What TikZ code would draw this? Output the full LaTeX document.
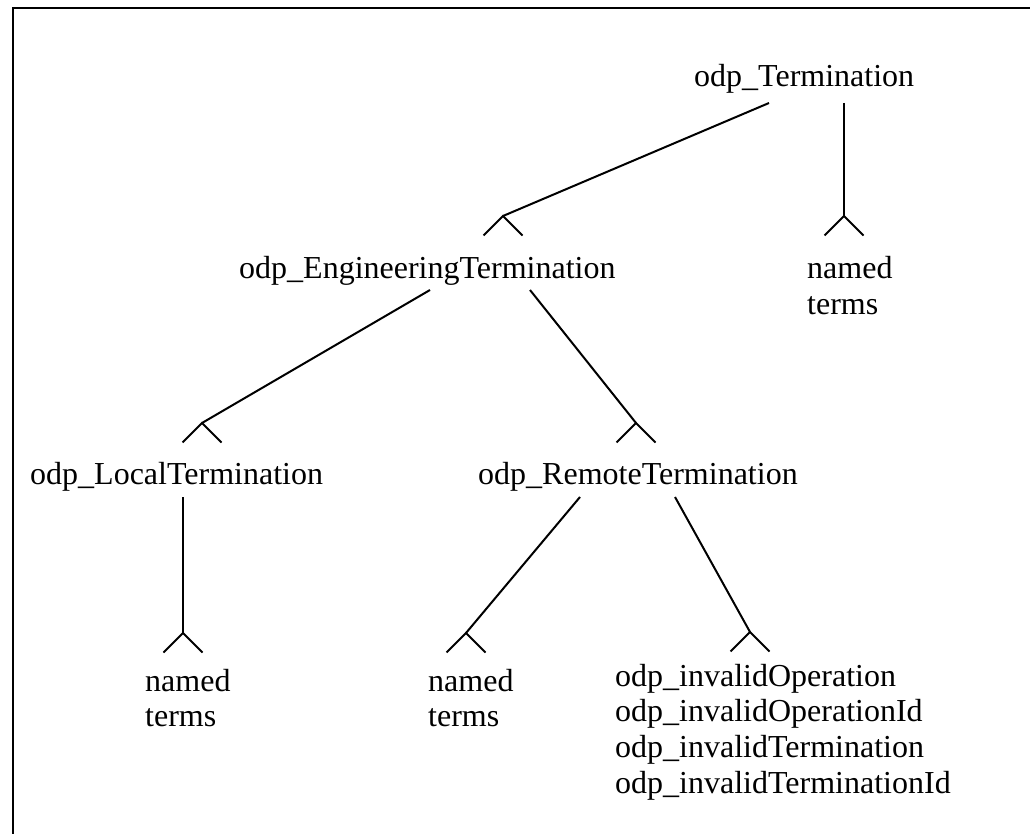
\documentclass[tikz,border=0pt]{standalone}
\usepackage{fontspec}
\setmainfont{Liberation Serif}
\begin{document}
\begin{tikzpicture}[x=1pt,y=-1pt,
  label/.style={inner sep=0pt,anchor=base west,align=left,
    font=\fontsize{32}{35.7}\selectfont},
  link/.style={line width=2pt},
  crowfoot/.pic={\draw[link] (-19.5,19.5) -- (0,0) -- (19.5,19.5);}]
\useasboundingbox (0,0) rectangle (1030,834);
% frame (only its top and left edges fall inside the page)
\draw[line width=2.5pt] (13,860) -- (13,8) -- (1050,8);

% terms (multi-line nodes are placed by the baseline of their last line)
\node[label] (term)   at (694,87)    {odp\_Termination};
\node[label] (eng)    at (239,278)   {odp\_EngineeringTermination};
\node[label] (named1) at (807,314.7) {named\\terms};
\node[label] (local)  at (30,484)    {odp\_LocalTermination};
\node[label] (remote) at (478,484)   {odp\_RemoteTermination};
\node[label] (named2) at (145,726.7) {named\\terms};
\node[label] (named3) at (428,726.7) {named\\terms};
\node[label] (inval)  at (615,793.1) {odp\_invalidOperation\\odp\_invalidOperationId\\odp\_invalidTermination\\odp\_invalidTerminationId};

% attachment points below the parent terms
\coordinate (termA)  at (769,103);
\coordinate (termB)  at (844,103);
\coordinate (engA)   at (430,290);
\coordinate (engB)   at (530,290);
\coordinate (localA) at (183,497);
\coordinate (remA)   at (580,497);
\coordinate (remB)   at (675,497);

% crow's-foot ends above the child terms
\coordinate (engF)    at (503,216);
\coordinate (named1F) at (844,216);
\coordinate (localF)  at (202,423);
\coordinate (remoteF) at (636,423);
\coordinate (named2F) at (183,633);
\coordinate (named3F) at (466,633);
\coordinate (invalF)  at (750,632);

\draw[link] (termA)  -- (engF);
\draw[link] (termB)  -- (named1F);
\draw[link] (engA)   -- (localF);
\draw[link] (engB)   -- (remoteF);
\draw[link] (localA) -- (named2F);
\draw[link] (remA)   -- (named3F);
\draw[link] (remB)   -- (invalF);

\foreach \f in {engF,named1F,localF,remoteF,named2F,named3F,invalF}
  \pic at (\f) {crowfoot};
\end{tikzpicture}
\end{document}
